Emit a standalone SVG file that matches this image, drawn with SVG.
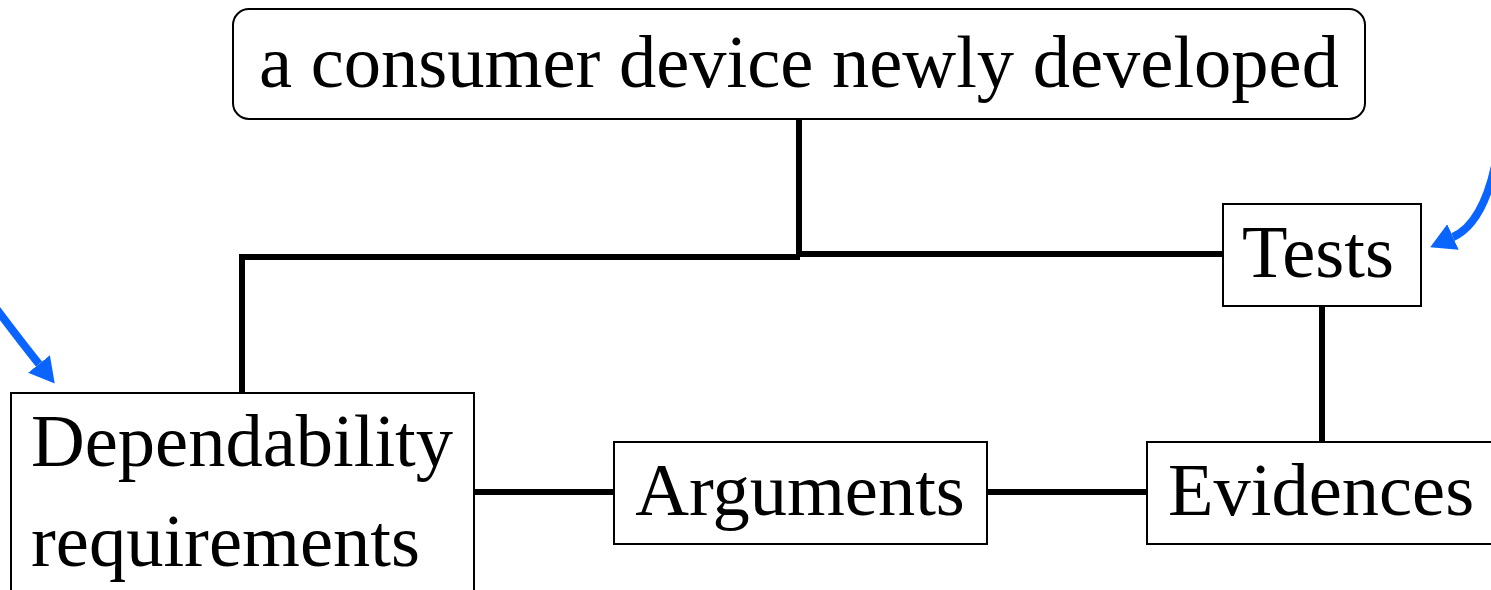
<svg xmlns="http://www.w3.org/2000/svg" width="1491" height="590" viewBox="0 0 1491 590">
  <style>
    .box { fill: #ffffff; stroke: #000000; stroke-width: 2; }
    .label { font-family: "Liberation Serif", "Times New Roman", serif; font-size: 74.5px; fill: #000000; }
    .link { fill: none; stroke: #000000; stroke-width: 6; }
    .pointer { fill: none; stroke: #0a64ff; stroke-width: 8; }
  </style>
  <defs>
    <marker id="blueHead" markerUnits="userSpaceOnUse" viewBox="0 0 25 28" refX="0" refY="14" markerWidth="25" markerHeight="28" orient="auto">
      <path d="M0,0 L25,14 L0,28 z" fill="#0a64ff"/>
    </marker>
  </defs>

  <g id="connectors">
    <polyline class="link" points="799,120 799,255"/>
    <polyline class="link" points="242,393 242,257 800,257"/>
    <polyline class="link" points="797,254 1222,254"/>
    <polyline class="link" points="1322,306 1322,442"/>
    <polyline class="link" points="474,492 614,492"/>
    <polyline class="link" points="987,492 1147,492"/>
  </g>

  <g id="pointers">
    <path class="pointer" d="M -8,303 Q 22,343 39,364" marker-end="url(#blueHead)"/>
    <path class="pointer" d="M 1495,166 Q 1482,224 1453,237" marker-end="url(#blueHead)"/>
  </g>

  <g id="device">
    <rect class="box" x="233" y="9" width="1132" height="110" rx="16" ry="16"/>
    <text class="label" x="799" y="87" text-anchor="middle">a consumer device newly developed</text>
  </g>

  <g id="tests">
    <rect class="box" x="1223" y="204" width="198" height="102"/>
    <text class="label" x="1318" y="277" text-anchor="middle">Tests</text>
  </g>

  <g id="requirements">
    <rect class="box" x="11" y="393" width="463" height="220"/>
    <text class="label" x="31" y="466">Dependability</text>
    <text class="label" x="31" y="566">requirements</text>
  </g>

  <g id="arguments">
    <rect class="box" x="614" y="442" width="373" height="102"/>
    <text class="label" x="800" y="515" text-anchor="middle">Arguments</text>
  </g>

  <g id="evidences">
    <rect class="box" x="1147" y="442" width="360" height="102"/>
    <text class="label" x="1168" y="515">Evidences</text>
  </g>
</svg>
